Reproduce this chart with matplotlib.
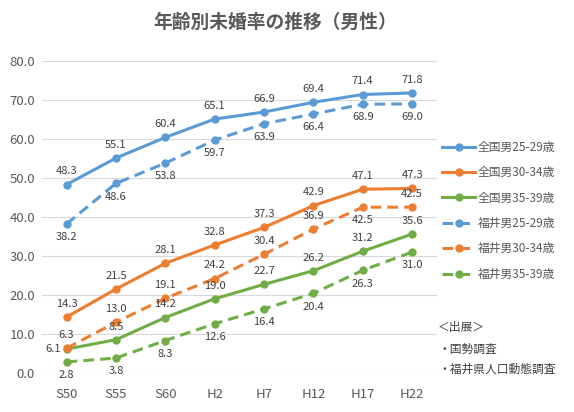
import matplotlib.pyplot as plt

plt.rcParams['font.family'] = ['Noto Sans CJK JP', 'DejaVu Sans']

years = ['S50', 'S55', 'S60', 'H2', 'H7', 'H12', 'H17', 'H22']

zenkoku_25_29 = [48.3, 55.1, 60.4, 65.1, 66.9, 69.4, 71.4, 71.8]
zenkoku_30_34 = [14.3, 21.5, 28.1, 32.8, 37.3, 42.9, 47.1, 47.3]
zenkoku_35_39 = [6.1, 8.5, 14.2, 19.0, 22.7, 26.2, 31.2, 35.6]
fukui_25_29 = [38.2, 48.6, 53.8, 59.7, 63.9, 66.4, 68.9, 69.0]
fukui_30_34 = [6.3, 13.0, 19.1, 24.2, 30.4, 36.9, 42.5, 42.5]
fukui_35_39 = [2.8, 3.8, 8.3, 12.6, 16.4, 20.4, 26.3, 31.0]

names = ['全国男25-29歳', '全国男30-34歳', '全国男35-39歳',
         '福井男25-29歳', '福井男30-34歳', '福井男35-39歳']
series = [zenkoku_25_29, zenkoku_30_34, zenkoku_35_39,
          fukui_25_29, fukui_30_34, fukui_35_39]

blue, orange, green = '#5B9BD5', '#ED7D31', '#70AD47'
colors = [blue, orange, green, blue, orange, green]
dashed = [False, False, False, True, True, True]
# label side per point: 1 above, -1 below, 0 left
sides = [
    [1] * 8,
    [1] * 8,
    [0, 1, 1, 1, 1, 1, 1, 1],
    [-1] * 8,
    [1, 1, 1, 1, 1, 1, -1, 1],
    [-1] * 8,
]

fig = plt.figure(figsize=(5.74, 4.12), dpi=100)
ax = fig.add_axes([0.073, 0.095, 0.688, 0.757])

x = range(len(years))
for vals, name, c, d, sd in zip(series, names, colors, dashed, sides):
    kw = dict(dashes=(3.5, 2)) if d else {}
    ax.plot(x, vals, color=c, lw=2.2, marker='o', ms=5, label=name, **kw)
    for i, v in enumerate(vals):
        if sd[i] == 0:
            ax.annotate(f'{v:.1f}', (i, v), xytext=(-10, 0), textcoords='offset points',
                        ha='center', va='center', fontsize=8, color='#404040')
        else:
            ax.annotate(f'{v:.1f}', (i, v), xytext=(0, 9.5 * sd[i]), textcoords='offset points',
                        ha='center', va='center', fontsize=8, color='#404040')

ax.set_xlim(-0.5, len(years) - 0.5)
ax.set_ylim(0, 80)
ax.set_xticks(list(x))
ax.set_xticklabels(years)
ax.set_yticks(range(0, 81, 10))
ax.set_yticklabels([f'{v:.1f}' for v in range(0, 81, 10)])
ax.tick_params(length=0, labelsize=9.5, colors='#595959')
ax.tick_params(axis='x', pad=11)
ax.tick_params(axis='y', pad=5)
ax.grid(axis='y', color='#D9D9D9', lw=0.8)
ax.set_axisbelow(True)
for s in ax.spines.values():
    s.set_visible(False)

fig.text(0.48, 0.945, '年齢別未婚率の推移（男性）', ha='center', va='center',
         fontsize=13.5, fontweight='bold', color='#595959')

ax.legend(loc='upper left', bbox_to_anchor=(0.762, 0.67), bbox_transform=fig.transFigure,
          frameon=False, fontsize=8.5, handlelength=2.8, labelspacing=1.05,
          handletextpad=0.2, borderaxespad=0, labelcolor='#595959')

fig.text(0.763, 0.204, '＜出展＞', fontsize=8.5, color='#404040', va='center')
fig.text(0.763, 0.153, '・国勢調査', fontsize=8.5, color='#404040', va='center')
fig.text(0.763, 0.104, '・福井県人口動態調査', fontsize=8.5, color='#404040', va='center')

fig.savefig('out.png', dpi=100)
